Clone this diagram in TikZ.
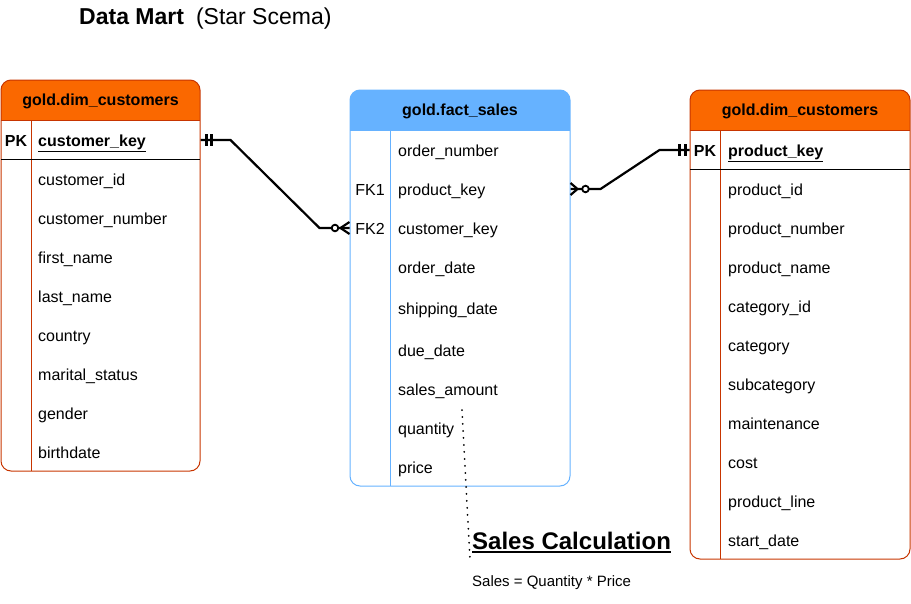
\documentclass[tikz,border=0pt]{standalone}
\usepackage{fontspec}
\setmainfont{Liberation Sans}
\usetikzlibrary{positioning}
\definecolor{hdrorange}{HTML}{FA6800}
\definecolor{edgeorange}{HTML}{C73500}
\definecolor{hdrblue}{HTML}{66B2FF}
\tikzstyle{field}=[anchor=base west,inner sep=0pt,font=\fontsize{16}{18}\selectfont]
\tikzstyle{keycol}=[anchor=base,inner sep=0pt,font=\fontsize{16}{18}\selectfont]
\tikzstyle{tablehead}=[anchor=base,inner sep=0pt,font=\bfseries\fontsize{16}{18}\selectfont]
\tikzstyle{erline}=[line width=2.2pt,black]
\tikzstyle{erbar}=[line width=2.2pt,black]
\newcommand{\entity}[9]{
  \begin{scope}
    \clip[rounded corners=10pt] (#2,#3) rectangle (#4,#5);
    \fill[#7] (#2,#3) rectangle (#4,#6);
  \end{scope}
  \draw[#8,line width=1pt] (#2,#6) -- (#4,#6);
  \node[draw=#8,line width=1pt,rounded corners=10pt,minimum width={(#4-#2)*1pt},minimum height={(#5-#3)*1pt},inner sep=0pt] (#1) at ({(#2+#4)/2},{(#3+#5)/2}) {};
  \node[tablehead] (#1-title) at ({(#2+#4)/2},#6-14.5) {#9};
}
\newcommand{\onebars}[2]{
  \draw[erbar] ([xshift=#2pt]#1) ++(0,-6) -- ++(0,12);
}

\begin{document}
\begin{tikzpicture}[x=1pt,y=-1pt]
    \useasboundingbox (0,0) rectangle (911,603);

    \node[anchor=base west,inner sep=0pt,font=\fontsize{23}{26}\selectfont] (title) at (79,24) {\textbf{Data Mart}\hspace{12pt}(Star Scema)};

    \entity{cust}{1}{80}{200}{471}{120}{hdrorange}{edgeorange}{gold.dim\_customers}
    \entity{fact}{350}{90}{570}{486}{130}{hdrblue}{hdrblue}{gold.fact\_sales}
    \entity{prod}{690}{90}{910}{559}{130}{hdrorange}{edgeorange}{gold.dim\_customers}

    \draw[edgeorange,line width=1pt] (31,120) -- (31,471);
    \draw[hdrblue,line width=1pt] (390,130) -- (390,486);
    \draw[edgeorange,line width=1pt] (720,130) -- (720,559);
    \draw[black,line width=1pt] (1,159) -- (200,159);
    \draw[black,line width=1pt] (690,169) -- (910,169);

    \node[keycol,font=\bfseries\fontsize{16}{18}\selectfont] (custpk) at (16,146) {PK};
    \node[field,font=\bfseries\fontsize{16}{18}\selectfont] (custkey) at (38,146) {\underline{customer\_key}};
    \foreach \name [count=\i] in {customer\_id,customer\_number,first\_name,last\_name,country,marital\_status,gender,birthdate}
        \node[field] (cust-\i) at (38,{179+39*(\i-1)+6}) {\name};

    \node[keycol] (fk1) at (370,195) {FK1};
    \node[keycol] (fk2) at (370,234) {FK2};
    \foreach \y/\name [count=\i] in {150/order\_number,189/product\_key,228/customer\_key,267/order\_date,308/shipping\_date,350/due\_date,389/sales\_amount,428/quantity,467/price}
        \node[field] (fact-\i) at (398,\y+6) {\name};

    \node[keycol,font=\bfseries\fontsize{16}{18}\selectfont] (prodpk) at (705,156) {PK};
    \node[field,font=\bfseries\fontsize{16}{18}\selectfont] (prodkey) at (728,156) {\underline{product\_key}};
    \foreach \name [count=\i] in {product\_id,product\_number,product\_name,category\_id,category,subcategory,maintenance,cost,product\_line,start\_date}
        \node[field] (prod-\i) at (728,{189+39*(\i-1)+6}) {\name};

    \coordinate (custR) at (cust.east |- 0,140);
    \coordinate (factL) at (fact.west |- 0,228);
    \coordinate (factR) at (fact.east |- 0,189);
    \coordinate (prodL) at (prod.west |- 0,150);

    \draw[erline] (custR) -- ++(30,0) -- ([xshift=-30pt]factL) -- (factL);
    \onebars{custR}{6}
    \onebars{custR}{11}
    \draw[erline] ([xshift=-9pt]factL) -- ([yshift=6pt]factL) ([xshift=-9pt]factL) -- ([yshift=-6pt]factL);
    \draw[erline,line width=1.8pt,fill=white] ([xshift=-14.5pt]factL) circle (3.3pt);

    \draw[erline] (factR) -- ++(30,0) -- ([xshift=-30pt]prodL) -- (prodL);
    \onebars{prodL}{-10}
    \onebars{prodL}{-4}
    \draw[erline] ([xshift=7pt]factR) -- ([yshift=6pt]factR) ([xshift=7pt]factR) -- ([yshift=-6pt]factR);
    \draw[erline,line width=1.8pt,fill=white] ([xshift=15pt]factR) circle (3.3pt);

    \node[anchor=base west,inner sep=0pt,font=\bfseries\fontsize{24}{28}\selectfont] (calc) at (472,549) {Sales Calculation};
    \draw[line width=2pt] ([yshift=-3pt]calc.base west) -- ([yshift=-3pt]calc.base east);
    \node[anchor=base west,inner sep=0pt,font=\fontsize{15}{18}\selectfont] (formula) at (472,586) {Sales = Quantity * Price};

    \coordinate (noteTop) at (462,410);
    \coordinate (noteEnd) at (470,560);
    \draw[line width=2pt,line cap=round,dash pattern=on 0pt off 7pt] (noteTop) -- (noteEnd);
\end{tikzpicture}
\end{document}
